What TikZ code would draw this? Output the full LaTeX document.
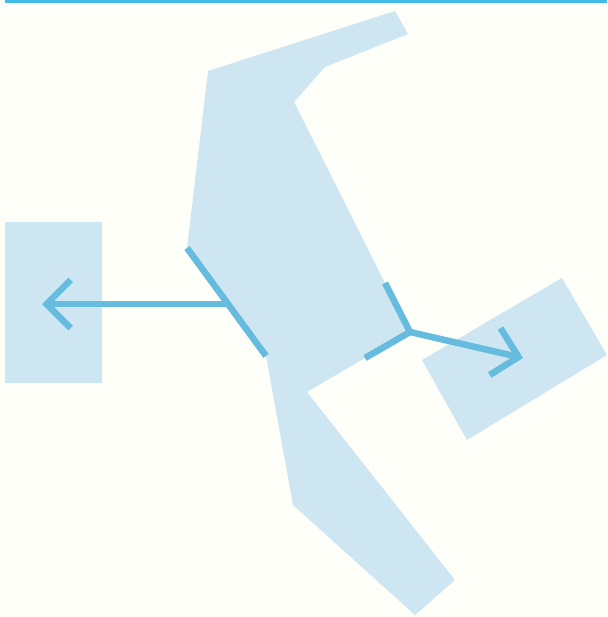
\documentclass[tikz,border=0pt]{standalone}
\usetikzlibrary{arrows.meta}
\definecolor{paleblue}{RGB}{205,230,241}
\definecolor{lineblue}{RGB}{101,188,222}
\definecolor{barblue}{RGB}{64,186,230}
\begin{document}
\begin{tikzpicture}[x=1pt,y=-1pt,line width=6.5pt,>={Straight Barb[length=24pt,width=48pt]}]
  \useasboundingbox (0,0) rectangle (607,617);
  \fill[white!98!yellow] (0,0) rectangle (607,617);
  % franja superior
  \fill[barblue] (5,0) rectangle (607,3.5);
  % cuerpo central
  \fill[paleblue] (395,11) -- (408,34) -- (325,67) -- (294,102) -- (385,283)
    -- (410,332) -- (365,358) -- (307,392) -- (455,580) -- (415,615)
    -- (293,505) -- (266,356) -- (187,248) -- (208,71) -- cycle;
  % cajas
  \fill[paleblue] (5,222) rectangle (102,383);
  \fill[paleblue] (422,360) -- (562,278) -- (607,355) -- (467,440) -- cycle;
  % puntos
  \coordinate (cutA) at (187,248);
  \coordinate (cutB) at (266,356);
  \coordinate (leftin) at (228,304);
  \coordinate (lefttip) at (42,304);
  \coordinate (fork) at (410,332);
  \coordinate (forkup) at (385,283);
  \coordinate (forklow) at (365,358);
  \coordinate (righttip) at (523,358);
  % trazos
  \draw[lineblue] (cutA) -- (cutB);
  \draw[lineblue,->] (leftin) -- (lefttip);
  \draw[lineblue] (forkup) -- (fork) -- (forklow);
  \draw[lineblue,->] (fork) -- (righttip);
\end{tikzpicture}
\end{document}
